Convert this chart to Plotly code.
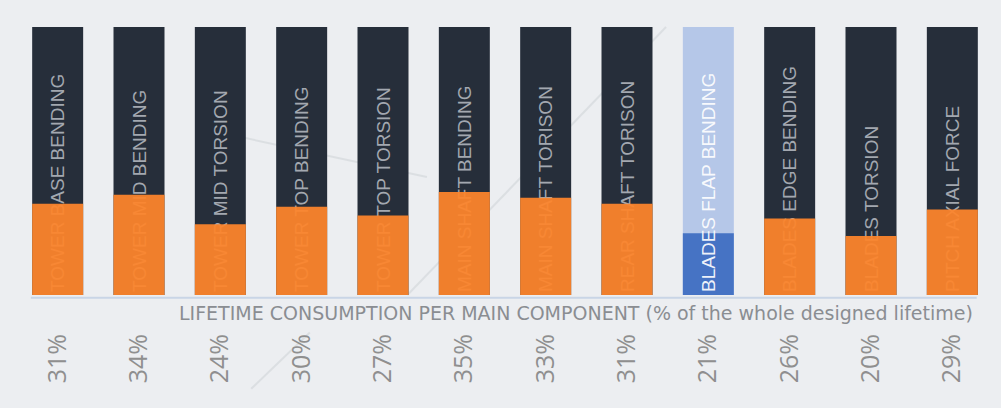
import plotly.graph_objects as go

# Components and the share of designed lifetime each one has consumed
components = [
    "TOWER BASE BENDING", "TOWER MID BENDING", "TOWER MID TORSION",
    "TOWER TOP BENDING", "TOWER TOP TORSION", "MAIN SHAFT BENDING",
    "MAIN SHAFT TORISON", "REAR SHAFT TORISON", "BLADES FLAP BENDING",
    "BLADES EDGE BENDING", "BLADES TORSION", "PITCH AXIAL FORCE",
]
consumed = [31, 34, 24, 30, 27, 35, 33, 31, 21, 26, 20, 29]
total = [100] * len(components)
highlight = "BLADES FLAP BENDING"

pct_labels = [f"{v}%" for v in consumed]
axis_title = "LIFETIME CONSUMPTION PER MAIN COMPONENT (% of the whole designed lifetime)"

NAVY = "#262e3a"
ORANGE = "#fd852c"
LIGHT_BLUE = "#b5c7e8"
BLUE = "#4673c4"
BG = "#eceef1"

is_hi = [c == highlight for c in components]

fig = go.Figure()

# Full-length track of each component, with its name written bottom-to-top
fig.add_trace(go.Bar(
    x=components, y=total,
    marker=dict(color=[LIGHT_BLUE if h else NAVY for h in is_hi], line=dict(width=0)),
    text=["" if h else c for c, h in zip(components, is_hi)],
    textposition="inside", insidetextanchor="start", textangle=-90,
    textfont=dict(family="Liberation Sans", size=19, color="#a3a8b0"),
    hoverinfo="skip", showlegend=False,
))

# Consumed part, slightly translucent so the name shows faintly through it
fig.add_trace(go.Bar(
    x=components, y=consumed,
    marker=dict(color=[BLUE if h else ORANGE for h in is_hi],
                opacity=[1.0 if h else 0.94 for h in is_hi],
                line=dict(width=0)),
    hovertemplate="%{x}: %{y}%<extra></extra>",
    showlegend=False,
))

# Name of the highlighted component drawn on top of both parts
fig.add_trace(go.Bar(
    x=components, y=total,
    marker=dict(color="rgba(0,0,0,0)", line=dict(width=0)),
    text=[c if h else "" for c, h in zip(components, is_hi)],
    textposition="inside", insidetextanchor="start", textangle=-90,
    textfont=dict(family="Liberation Sans", size=19, color="rgba(255,255,255,0.92)"),
    hoverinfo="skip", showlegend=False,
))

# Faint decorative strokes in the background
for x0, y0, x1, y1 in [(0.19, 0.62, 0.42, 0.44), (0.40, 0.0, 0.665, 1.0),
                       (0.24, -0.35, 0.30, -0.14)]:
    fig.add_shape(type="line", xref="paper", yref="paper",
                  x0=x0, y0=y0, x1=x1, y1=y1, layer="below",
                  line=dict(color="rgba(200,203,208,0.45)", width=2))

# Baseline under the bars
fig.add_shape(type="line", xref="x", yref="paper",
              x0=-0.33, x1=11.3, y0=-0.01, y1=-0.01, layer="above",
              line=dict(color="#c9d5e6", width=2))

fig.add_annotation(
    text=axis_title, xref="paper", yref="paper",
    x=0.982, y=-0.068, xanchor="right", yanchor="middle", showarrow=False,
    font=dict(family="DejaVu Sans", size=19, color="#8a8d92"),
)

fig.update_layout(
    width=1001, height=408,
    margin=dict(l=17, r=8, t=27, b=113),
    paper_bgcolor=BG, plot_bgcolor="rgba(0,0,0,0)",
    barmode="overlay", bargap=0.373,
    xaxis=dict(
        type="category", tickmode="array", tickvals=components, ticktext=pct_labels,
        tickangle=-90, ticks="", showgrid=False, zeroline=False, showline=False,
        ticklabelstandoff=33,
        tickfont=dict(family="Open Sans", size=25, color="#8f8f8f"),
    ),
    yaxis=dict(range=[0, 91], visible=False, fixedrange=True),
)

fig.write_html("out.html")
